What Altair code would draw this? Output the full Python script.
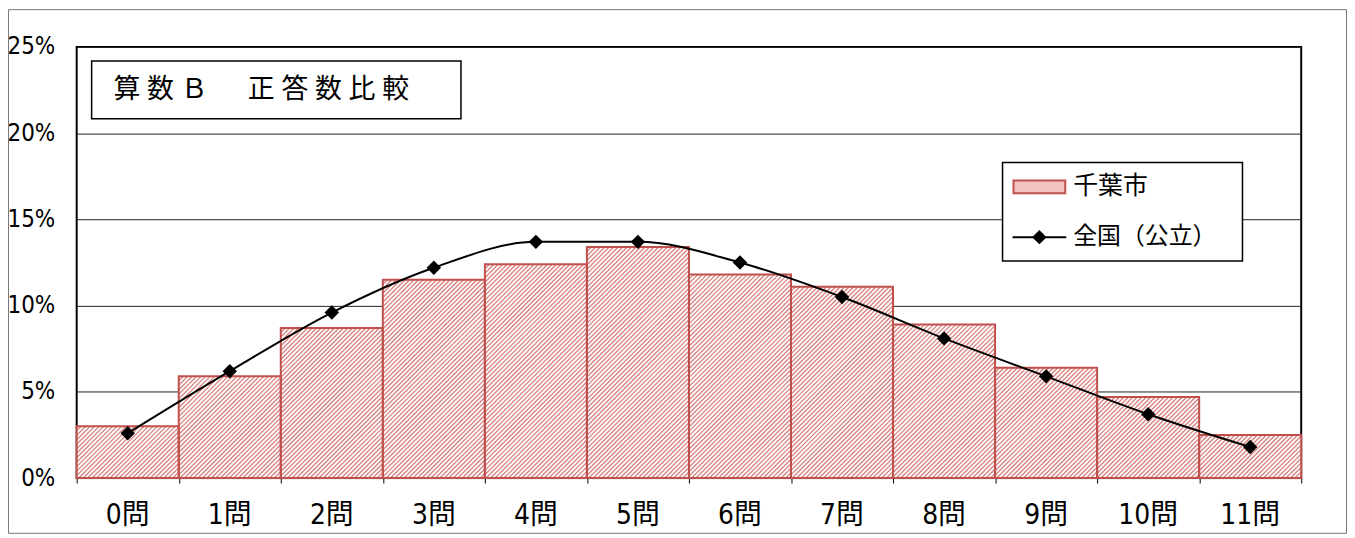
import altair as alt
import pandas as pd

# ---- data ----
categories = ["0問", "1問", "2問", "3問", "4問", "5問", "6問", "7問", "8問", "9問", "10問", "11問"]
chiba = [3.0, 5.9, 8.7, 11.5, 12.4, 13.4, 11.8, 11.1, 8.9, 6.4, 4.7, 2.5]
zenkoku = [2.6, 6.2, 9.6, 12.2, 13.7, 13.7, 12.5, 10.5, 8.1, 5.9, 3.7, 1.8]
series_names = ["千葉市", "全国（公立）"]
title_text = "算数Ｂ　正答数比較"
y_ticks = [0, 5, 10, 15, 20, 25]

# ---- layout ----
W, H = 1230, 433
n = len(categories)
YMAX = 25
A = W / n          # px per category
B = H / YMAX       # px per percent
P = 4.5            # hatch period (px, horizontal)
RED = "#c0504d"
NUMFONT = "Liberation Sans Narrow, DejaVu Sans Condensed, Noto Sans CJK JP"
CJK = "Noto Sans CJK JP"
PAD_B = 56

df = pd.DataFrame({"idx": list(range(n)), "label": categories,
                   "chiba": chiba, "zenkoku": zenkoku})

xscale = alt.Scale(domain=[-0.5, n - 0.5], nice=False, zero=False)
yscale = alt.Scale(domain=[0, YMAX], nice=False)
xaxis = alt.Axis(values=[i - 0.5 for i in range(n + 1)], labels=False, ticks=True,
                 tickSize=5, tickColor="black", tickWidth=1, domain=False,
                 grid=False, title="")
yaxis = alt.Axis(values=y_ticks, labelExpr="datum.value + '%'", domain=False,
                 ticks=False, tickSize=0, grid=True, gridColor="#222", gridWidth=1,
                 labelFont=NUMFONT, labelFontSize=24, labelColor="black",
                 labelPadding=22, title="")

base = alt.Chart(df)

bar_enc = dict(
    x=alt.X("x0:Q", scale=xscale, axis=xaxis),
    x2="x1:Q",
    y=alt.Y("chiba:Q", scale=yscale, axis=yaxis),
    y2=alt.datum(0),
)
bars_bg = base.transform_calculate(
    x0="datum.idx - 0.5", x1="datum.idx + 0.5"
).mark_rect(fill="white").encode(**bar_enc)

hatch = base.transform_calculate(
    k=f"sequence(0, ceil((datum.chiba*{B} + {A})/{P}) + 1)"
).transform_flatten(["k"]).transform_calculate(
    c=f"datum.k*{P} - datum.chiba*{B}"
).transform_calculate(
    s="max(0, datum.c)"
).transform_calculate(
    e=f"min({A}, datum.chiba*{B} + datum.c)"
).transform_filter("datum.e > datum.s").transform_calculate(
    hx1=f"datum.idx - 0.5 + datum.s/{A}",
    hy1=f"(datum.s - datum.c)/{B}",
    hx2=f"datum.idx - 0.5 + datum.e/{A}",
    hy2=f"(datum.e - datum.c)/{B}",
).mark_rule(color="#d9807d", strokeWidth=1.3).encode(
    x=alt.X("hx1:Q", scale=xscale, axis=xaxis),
    y=alt.Y("hy1:Q", scale=yscale, axis=yaxis),
    x2="hx2:Q", y2="hy2:Q",
)

bars_outline = base.transform_calculate(
    x0="datum.idx - 0.5", x1="datum.idx + 0.5"
).mark_rect(fill="white", fillOpacity=0, stroke=RED, strokeWidth=2).encode(**bar_enc)

line = base.mark_line(color="black", strokeWidth=2, interpolate="monotone").encode(
    x=alt.X("idx:Q", scale=xscale, axis=xaxis),
    y=alt.Y("zenkoku:Q", scale=yscale, axis=yaxis),
)
points = base.mark_point(shape="diamond", filled=True, color="black", size=210,
                         opacity=1).encode(
    x=alt.X("idx:Q", scale=xscale, axis=xaxis),
    y=alt.Y("zenkoku:Q", scale=yscale, axis=yaxis),
)

xlabels = base.mark_text(font=NUMFONT, fontSize=28, color="black",
                         baseline="alphabetic", align="center").encode(
    x=alt.X("idx:Q", scale=xscale, axis=xaxis),
    y=alt.value(H + 46),
    text="label:N",
)

# ---- title box ----
tdf = pd.DataFrame({"t": ["\u2005".join(title_text)]})
title_box = alt.Chart(tdf).mark_rect(fill="white", stroke="black", strokeWidth=1.5).encode(
    x=alt.value(15), x2=alt.value(386), y=alt.value(14), y2=alt.value(72))
title_txt = alt.Chart(tdf).mark_text(font=CJK, fontSize=27, color="black",
                                     align="left", baseline="middle").encode(
    x=alt.value(37), y=alt.value(43), text="t:N")

# ---- legend ----
one = pd.DataFrame({"a": [series_names[0]], "b": [series_names[1]]})
leg_box = alt.Chart(one).mark_rect(fill="white", stroke="black", strokeWidth=1.5).encode(
    x=alt.value(930), x2=alt.value(1171), y=alt.value(116), y2=alt.value(215))
leg_swatch = alt.Chart(one).mark_rect(fill="#f2c2c1", stroke=RED, strokeWidth=2).encode(
    x=alt.value(941), x2=alt.value(993), y=alt.value(134), y2=alt.value(147))
leg_line = alt.Chart(one).mark_rule(color="black", strokeWidth=2).encode(
    x=alt.value(940), x2=alt.value(994), y=alt.value(191))
leg_pt = alt.Chart(one).mark_point(shape="diamond", filled=True, color="black",
                                   size=210, opacity=1).encode(
    x=alt.value(967), y=alt.value(191))
leg_t1 = alt.Chart(one).mark_text(font=CJK, fontSize=25, color="black", align="left",
                                  baseline="middle").encode(
    x=alt.value(1001), y=alt.value(140), text="a:N")
leg_t2 = alt.Chart(one).mark_text(font=CJK, fontSize=24, color="black", align="left",
                                  baseline="middle").encode(
    x=alt.value(1001), y=alt.value(191), text="b:N")

# ---- outer frame ----
frame = alt.Chart(one).mark_rect(fill="white", fillOpacity=0, stroke="#777",
                                 strokeWidth=1).encode(
    x=alt.value(-68.5), x2=alt.value(W + 45.5), y=alt.value(-37.5),
    y2=alt.value(H + PAD_B - 0.5))

chart = alt.layer(
    bars_bg, hatch, bars_outline, line, points, xlabels,
    title_box, title_txt, leg_box, leg_swatch, leg_line, leg_pt, leg_t1, leg_t2, frame,
).properties(
    width=W, height=H,
    padding={"left": 69, "top": 38, "right": 46, "bottom": PAD_B},
    autosize=alt.AutoSizeParams(type="none"),
    background="white",
).configure_view(stroke="black", strokeWidth=2)

chart.save("out.html", embed_options={"renderer": "svg", "actions": False})
